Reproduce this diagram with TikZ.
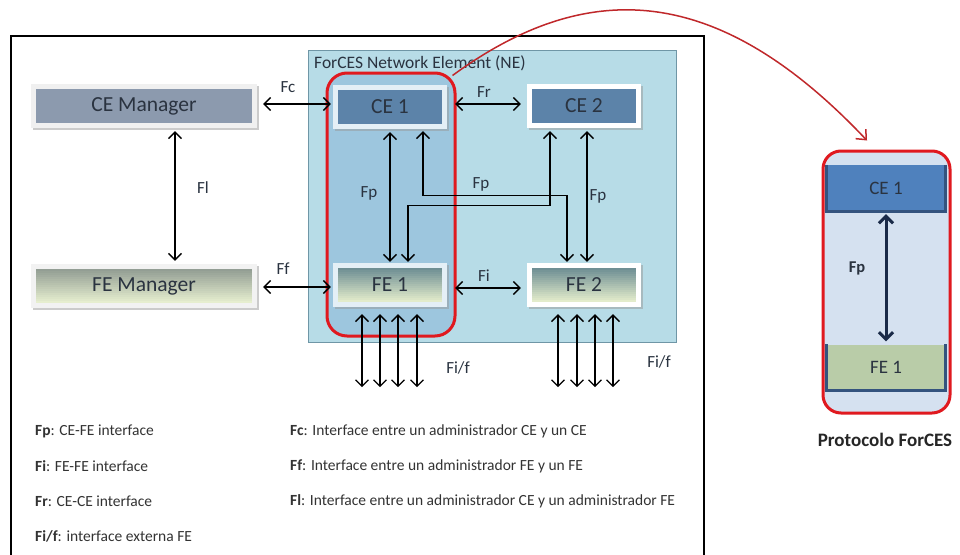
\documentclass[tikz,border=0pt]{standalone}
\usepackage{fontspec}
\setmainfont{Carlito}
\usetikzlibrary{arrows.meta,calc,shadows}

\definecolor{nefill}{HTML}{B7DCE7}
\definecolor{nedraw}{HTML}{6F96A6}
\definecolor{grpfill}{HTML}{9DC6DE}
\definecolor{grpred}{HTML}{E0191F}
\definecolor{curvered}{HTML}{C0282B}
\definecolor{cefill}{HTML}{5C83A9}
\definecolor{cemfill}{HTML}{8C9AAE}
\definecolor{fetop}{HTML}{6F8F94}
\definecolor{febot}{HTML}{E3ECCB}
\definecolor{femtop}{HTML}{939E94}
\definecolor{fembot}{HTML}{E6EECF}
\definecolor{txtdark}{HTML}{2A3340}
\definecolor{legtxt}{HTML}{333333}
\definecolor{pfill}{HTML}{D5E1F0}
\definecolor{pce}{HTML}{4F81BD}
\definecolor{pfe}{HTML}{B9CCA8}
\definecolor{pedge}{HTML}{34537E}
\definecolor{navy}{HTML}{1A2A48}

\tikzset{
  framebox/.style={draw=none, fill=#1, minimum width=114pt, minimum height=44pt,
    inner sep=0pt, text=txtdark, font=\fontsize{21.5}{25}\selectfont,
    drop shadow={shadow xshift=2pt, shadow yshift=-2pt, fill=black!40, opacity=.5}},
  flatin/.style={path picture={\fill[#1]
      ($(path picture bounding box.north west)+(5,5)$) rectangle
      ($(path picture bounding box.south east)+(-5,-5)$);}},
  % vertical gradient built from thin strips, darker colour at the top
  stripin/.style 2 args={path picture={
      \foreach \i in {0,...,16} {
        \pgfmathtruncatemacro\pc{\i*100/16}
        \fill[#2!\pc!#1]
          ($(path picture bounding box.north west)+(5,5+2*\i)$) rectangle
          ($(path picture bounding box.north east)+(-5,7.4+2*\i)$);
      }}},
  link/.style={draw=black, line width=1.3pt,
    {Straight Barb[length=6.5pt,width=13pt]}-{Straight Barb[length=6.5pt,width=13pt]}},
  lbl/.style={font=\fontsize{17}{20}\selectfont, text=txtdark, inner sep=0pt},
  legend/.style={font=\fontsize{15.5}{18}\selectfont, text=legtxt, anchor=west, inner sep=0pt},
  pbox/.style={minimum width=118pt, minimum height=46pt, inner sep=0pt,
    font=\fontsize{19}{22}\selectfont, text=txtdark},
}

\begin{document}
\begin{tikzpicture}[x=1pt,y=-1pt]
\useasboundingbox (0,0) rectangle (960,554);
\fill[white] (0,0) rectangle (960,554);

% outer frame of the architecture view
\draw[line width=2pt] (11,600) -- (11,36) -- (704,36) -- (704,600);

% ForCES network element
\node[draw=nedraw, line width=0.8pt, fill=nefill, minimum width=368pt,
      minimum height=292pt, inner sep=0pt] (ne) at (492,196) {};
\node[anchor=west, font=\fontsize{17.5}{20}\selectfont, text=txtdark, inner sep=0pt]
      (netitle) at (314,63) {ForCES Network Element (NE)};

% highlighted CE/FE pair
\node[draw=grpred, line width=3pt, fill=grpfill, rounded corners=20pt,
      minimum width=128pt, minimum height=263pt, inner sep=0pt] (grp) at (391,204.5) {};

% managers
\node[framebox=black!6, flatin=cemfill, minimum width=226pt] (cem) at (144,106) {CE Manager};
\node[framebox=black!5, stripin={femtop}{fembot}, minimum width=226pt] (fem) at (144,286) {FE Manager};

% control and forwarding elements
\node[framebox=white!72!grpfill, flatin=cefill] (ce1) at (390,107) {CE 1};
\node[framebox=white, flatin=cefill] (ce2) at (584,106) {CE 2};
\node[framebox=white!72!grpfill, stripin={fetop}{febot}] (fe1) at (390,285) {FE 1};
\node[framebox=white, stripin={fetop}{febot}] (fe2) at (584,285) {FE 2};

% reference points
\draw[link, shorten <=6pt, shorten >=2pt] (cem.east |- 0,104) -- (ce1.west |- 0,104);
\draw[link, shorten <=6pt, shorten >=2pt] (fem.east |- 0,287) -- (fe1.west |- 0,287);
\draw[link, shorten <=3pt, shorten >=3pt] ($(cem.south)+(31,0)$) -- ($(fem.north)+(31,0)$);
\draw[link, shorten <=8pt, shorten >=6pt] (ce1.east |- 0,104) -- (ce2.west |- 0,104);
\draw[link, shorten <=8pt, shorten >=6pt] (fe1.east |- 0,288) -- (fe2.west |- 0,288);
\draw[link, shorten <=3pt, shorten >=1pt] (ce1.south) -- (fe1.north);
\draw[link, shorten <=3pt, shorten >=1pt] ($(ce2.south)+(3,0)$) -- ($(fe2.north)+(3,0)$);

\coordinate (k1) at ($(ce2.south)+(-34,3)$);
\coordinate (k2) at ($(fe1.north)+(18,-1)$);
\draw[link] (k1) -- ++(0,74) -| (k2);
\coordinate (k3) at ($(ce1.south)+(33,2)$);
\coordinate (k4) at ($(fe2.north)+(-17,-1)$);
\draw[link] (k3) -- ++(0,64) -| (k4);

% external FE interfaces
\foreach \dx [count=\i] in {-28,-10,8,27} {
  \coordinate (x1\i) at ($(fe1.south)+(\dx,80)$);
  \draw[link] ($(fe1.south)+(\dx,7)$) -- (x1\i);
}
\foreach \dx [count=\i] in {-26,-7,11,29} {
  \coordinate (x2\i) at ($(fe2.south)+(\dx,80)$);
  \draw[link] ($(fe2.south)+(\dx,7)$) -- (x2\i);
}

% interface labels
\node[lbl] (lfc) at (288,87) {Fc};
\node[lbl] (lff) at (283,269) {Ff};
\node[lbl] (lfl) at (203,188) {Fl};
\node[lbl] (lfr) at (484,92) {Fr};
\node[lbl] (lfi) at (484,276) {Fi};
\node[lbl] (lfp1) at (369,193) {Fp};
\node[lbl] (lfp2) at (481,184) {Fp};
\node[lbl] (lfp3) at (598,196) {Fp};
\node[lbl] (lfif1) at (458,368) {Fi/f};
\node[lbl] (lfif2) at (659,362) {Fi/f};

% legend
\node[legend] (g1) at (35,431) {\textbf{Fp}: CE-FE interface};
\node[legend] (g2) at (35,466) {\textbf{Fi}: FE-FE interface};
\node[legend] (g3) at (35,501) {\textbf{Fr}: CE-CE interface};
\node[legend] (g4) at (35,536) {\textbf{Fi/f}: interface externa FE};
\node[legend] (g5) at (290,431) {\textbf{Fc}: Interface entre un administrador CE y un CE};
\node[legend] (g6) at (290,466) {\textbf{Ff}: Interface entre un administrador FE y un FE};
\node[legend] (g7) at (290,501) {\textbf{Fl}: Interface entre un administrador CE y un administrador FE};

% ForCES protocol panel
\node[draw=grpred, line width=3pt, fill=pfill, rounded corners=18pt,
      minimum width=127pt, minimum height=262pt, inner sep=0pt] (prot) at (886.5,282) {};
\node[pbox, fill=pce] (pce1) at (886,188) {CE 1};
\node[pbox, fill=pfe] (pfe1) at (886,367.5) {FE 1};
\draw[pedge, line width=3pt] (pce1.north west) -- (pce1.south west) -- (pce1.south east) -- (pce1.north east);
\draw[pedge, line width=3pt] (pfe1.north west) -- (pfe1.south west) -- (pfe1.south east) -- (pfe1.north east);
\draw[navy, line width=3pt, {Straight Barb[length=7pt,width=14pt]}-{Straight Barb[length=7pt,width=14pt]},
      shorten <=3pt, shorten >=3pt] (pce1.south) -- (pfe1.north);
\node[font=\bfseries\fontsize{16.5}{19}\selectfont, text=txtdark, inner sep=0pt] (pfp) at (857,268) {Fp};
\node[font=\bfseries\fontsize{19}{22}\selectfont, text=black!85, inner sep=0pt] (pcap) at (885,440) {Protocolo ForCES};

% link from the highlighted pair to the protocol panel
\draw[curvered, line width=1.5pt, -{Straight Barb[length=8pt,width=14pt]}]
  ($(grp.north east)+(-4,4)$) .. controls (590,-25) and (720,-15) .. ($(prot.north)+(-19.5,-9)$);
\end{tikzpicture}
\end{document}
